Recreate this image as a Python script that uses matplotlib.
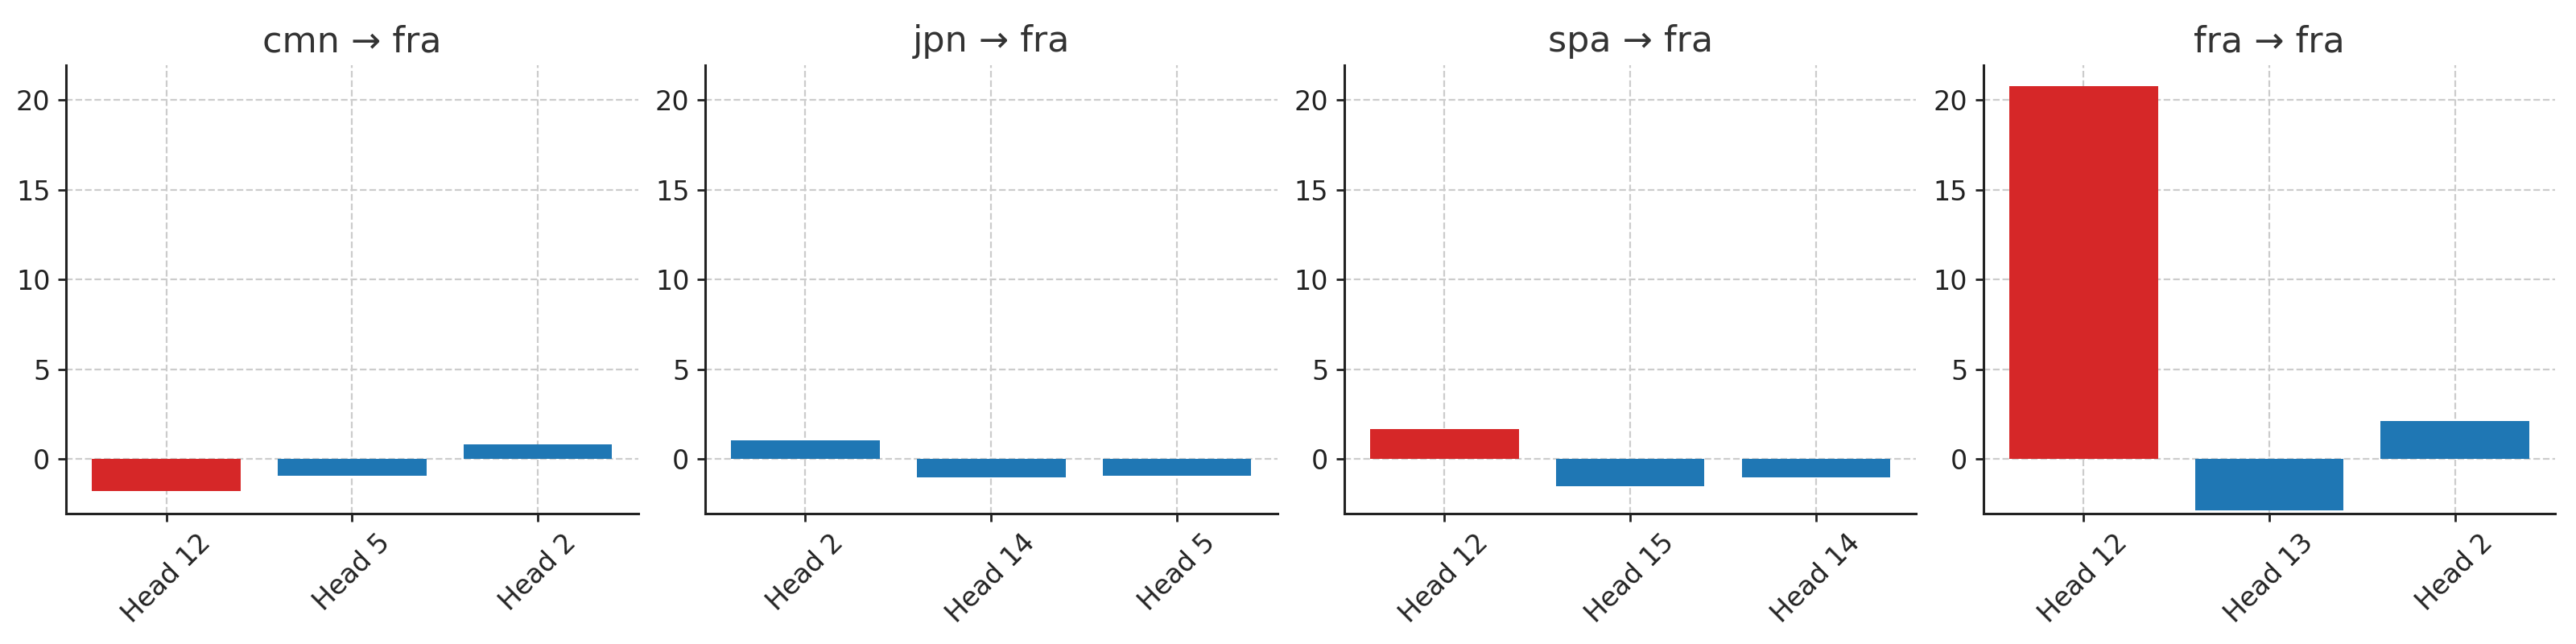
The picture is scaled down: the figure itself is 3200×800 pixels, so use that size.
import numpy as np
import matplotlib
matplotlib.use('Agg')
import matplotlib.pyplot as plt

# Source language -> target language panels
titles = ['cmn → fra', 'jpn → fra', 'spa → fra', 'fra → fra']

# top heads per panel and their values
heads_cmn = ['Head 12', 'Head 5', 'Head 2']
vals_cmn = [-1.80, -0.94, 0.84]

heads_jpn = ['Head 2', 'Head 14', 'Head 5']
vals_jpn = [1.06, -1.03, -0.94]

heads_spa = ['Head 12', 'Head 15', 'Head 14']
vals_spa = [1.65, -1.53, -1.03]

heads_fra = ['Head 12', 'Head 13', 'Head 2']
vals_fra = [20.79, -2.86, 2.14]

highlight = 'Head 12'
red = '#d62728'
blue = '#1f77b4'
ink = '#222222'

plt.rcParams['font.family'] = ['DejaVu Sans']

fig, axes = plt.subplots(1, 4, figsize=(16, 4), dpi=200)
panels = [(heads_cmn, vals_cmn), (heads_jpn, vals_jpn),
          (heads_spa, vals_spa), (heads_fra, vals_fra)]

for ax, title, (heads, vals) in zip(axes, titles, panels):
    x = np.arange(len(heads))
    cols = [red if h == highlight else blue for h in heads]
    ax.bar(x, vals, width=0.8, color=cols, zorder=2)
    ax.set_xticks(x)
    ax.set_xticklabels(heads, rotation=45, fontsize=12, color=ink)
    ax.set_title(title, fontsize=16, color='#333333', pad=6)
    ax.set_ylim(-3.04, 21.96)
    ax.set_yticks([0, 5, 10, 15, 20])
    ax.tick_params(axis='y', labelsize=12, labelcolor=ink)
    ax.tick_params(colors=ink, length=3.5, width=1.0)
    ax.grid(True, linestyle='--', color='#cccccc', linewidth=0.8, zorder=0)
    ax.set_axisbelow(True)
    for s in ['top', 'right']:
        ax.spines[s].set_visible(False)
    for s in ['left', 'bottom']:
        ax.spines[s].set_color(ink)
        ax.spines[s].set_linewidth(1.1)

plt.subplots_adjust(left=0.0256, right=0.992, top=0.899, bottom=0.2025, wspace=0.117)
plt.savefig('out.png')
